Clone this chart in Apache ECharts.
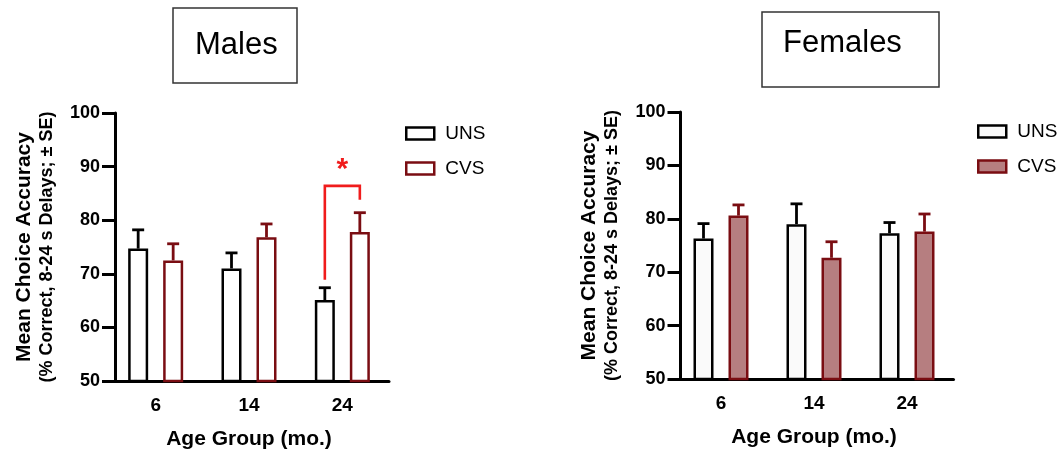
<!DOCTYPE html>
<html>
<head>
<meta charset="utf-8">
<script src="https://cdn.jsdelivr.net/npm/echarts@6/dist/echarts.min.js"></script>
<style>
html,body{margin:0;padding:0;background:#fff;}
#chart{width:1063px;height:455px;}
</style>
</head>
<body>
<div id="chart"></div>
<script>
const categories = ['6', '14', '24'];
const yTicks = [50, 60, 70, 80, 90, 100];
const malesUNS = [74.7, 71.0, 65.1];
const malesUNSse = [3.5, 2.9, 2.3];
const malesCVS = [72.5, 76.8, 77.8];
const malesCVSse = [3.1, 2.5, 3.6];
const femalesUNS = [76.3, 79.0, 77.3];
const femalesUNSse = [2.8, 3.8, 2.0];
const femalesCVS = [80.6, 72.7, 77.6];
const femalesCVSse = [2.0, 3.0, 3.3];
// significance bracket (males, 24 mo.): left foot, top, right foot, asterisk height
const sigCategory = 2;
const sigBracket = [68.9, 86.4, 83.8];
const sigStarY = 89.4;
const sigLabel = '*';

const FONT = 'Liberation Sans, Arial, sans-serif';
const DARKRED = '#7a0d12';
const PINK = '#b67e80';
const BAR_W = 20;
const BAR_GAP = 0.75;
const OFF = (BAR_W + BAR_W * BAR_GAP) / 2;

const chart = echarts.init(document.getElementById('chart'), null, {renderer: 'canvas'});

function xAxisCfg(gi) {
  return {
    type: 'category', gridIndex: gi, data: categories,
    axisLine: {lineStyle: {color: '#000', width: 3}},
    axisTick: {alignWithLabel: true, length: 11, lineStyle: {color: '#000', width: 3}},
    axisLabel: {color: '#000', fontFamily: FONT, fontWeight: 'bold', fontSize: 19, margin: 15},
    name: 'Age Group (mo.)', nameLocation: 'middle', nameGap: 48,
    nameTextStyle: {color: '#000', fontFamily: FONT, fontWeight: 'bold', fontSize: 21}
  };
}
function yAxisCfg(gi) {
  return {
    type: 'value', gridIndex: gi, min: yTicks[0], max: yTicks[yTicks.length - 1], interval: 10,
    offset: -6,
    splitLine: {show: false},
    axisLine: {show: true, lineStyle: {color: '#000', width: 3}},
    axisTick: {show: true, length: 13, lineStyle: {color: '#000', width: 3}},
    axisLabel: {color: '#000', fontFamily: FONT, fontWeight: 'bold', fontSize: 18, margin: 15},
    name: '{a|Mean Choice Accuracy}\n{b|(% Correct, 8-24 s Delays; ± SE)}',
    nameLocation: 'middle', nameRotate: 90, nameGap: 57,
    nameTextStyle: {
      color: '#000', fontFamily: FONT, fontWeight: 'bold',
      rich: {
        a: {fontFamily: FONT, fontWeight: 'bold', fontSize: 21, lineHeight: 24, color: '#000'},
        b: {fontFamily: FONT, fontWeight: 'bold', fontSize: 18, lineHeight: 22, color: '#000'}
      }
    }
  };
}
function barSeries(name, gi, data, fill, border) {
  return {
    name: name, type: 'bar', xAxisIndex: gi, yAxisIndex: gi, data: data,
    barWidth: BAR_W, barGap: (BAR_GAP * 100) + '%',
    itemStyle: {color: fill, borderColor: border, borderWidth: 2.5},
    z: 2, silent: true
  };
}
function errSeries(gi, means, ses, dir, color) {
  return {
    type: 'custom', xAxisIndex: gi, yAxisIndex: gi, z: 3, silent: true,
    data: means.map((m, i) => [i, m, ses[i]]),
    encode: {x: 0, y: 1},
    renderItem: function (params, api) {
      const base = api.coord([api.value(0), api.value(1)]);
      const top = api.coord([api.value(0), api.value(1) + api.value(2)]);
      const x = base[0] + dir * OFF;
      const st = {stroke: color, lineWidth: 2.8, fill: null};
      return {
        type: 'group', children: [
          {type: 'line', shape: {x1: x, y1: base[1], x2: x, y2: top[1]}, style: st},
          {type: 'line', shape: {x1: x - 6, y1: top[1], x2: x + 6, y2: top[1]}, style: st}
        ]
      };
    }
  };
}
const sigSeries = {
  type: 'custom', xAxisIndex: 0, yAxisIndex: 0, z: 4, silent: true,
  data: [[sigCategory, sigBracket[0], sigBracket[1], sigBracket[2], sigStarY]],
  encode: {x: 0, y: 2},
  renderItem: function (params, api) {
    const c = api.value(0);
    const pl = api.coord([c, api.value(1)]);
    const pt = api.coord([c, api.value(2)]);
    const pr = api.coord([c, api.value(3)]);
    const ps = api.coord([c, api.value(4)]);
    const xl = pl[0] - OFF, xr = pl[0] + OFF;
    return {
      type: 'group', children: [
        {type: 'polyline', shape: {points: [[xl, pl[1]], [xl, pt[1]], [xr, pt[1]], [xr, pr[1]]]},
          style: {stroke: '#f01c1c', lineWidth: 2.6, fill: null}},
        {type: 'text', x: pl[0], y: ps[1],
          style: {text: sigLabel, fill: '#f01c1c', font: 'bold 30px ' + FONT, align: 'center', verticalAlign: 'middle'}}
      ]
    };
  }
};

function legendCfg(left, top, cvsFill) {
  return {
    orient: 'vertical', left: left, top: top,
    itemWidth: 28, itemHeight: 12, itemGap: 14,
    textStyle: {color: '#000', fontFamily: FONT, fontSize: 19, lineHeight: 21, padding: [0, 0, 0, 6]},
    selectedMode: false,
    data: [
      {name: 'UNS', icon: 'rect', itemStyle: {color: cvsFill === PINK ? '#fafafa' : '#fff', borderColor: '#000', borderWidth: 2.5}},
      {name: 'CVS', icon: 'rect', itemStyle: {color: cvsFill, borderColor: DARKRED, borderWidth: 2.5}}
    ]
  };
}

const titleStyle = {color: '#000', fontFamily: FONT, fontWeight: 'normal', fontSize: 31, lineHeight: 31};

const option = {
  backgroundColor: '#fff',
  animation: false,
  title: [
    {text: 'Males', left: 173, top: 8, padding: [22, 20, 22, 22], borderColor: '#333', borderWidth: 1.5, textStyle: titleStyle},
    {text: 'Females', left: 762, top: 12, padding: [16, 37, 28, 21], borderColor: '#333', borderWidth: 1.5, textStyle: titleStyle}
  ],
  legend: [legendCfg(400, 118, '#fff'), legendCfg(972, 116, PINK)],
  grid: [
    {left: 109, top: 113, width: 280, height: 268},
    {left: 674.5, top: 112, width: 279, height: 267}
  ],
  xAxis: [xAxisCfg(0), xAxisCfg(1)],
  yAxis: [yAxisCfg(0), yAxisCfg(1)],
  series: [
    barSeries('UNS', 0, malesUNS, '#fff', '#000'),
    barSeries('CVS', 0, malesCVS, '#fff', DARKRED),
    barSeries('UNS', 1, femalesUNS, '#fafafa', '#000'),
    barSeries('CVS', 1, femalesCVS, PINK, DARKRED),
    errSeries(0, malesUNS, malesUNSse, -1, '#000'),
    errSeries(0, malesCVS, malesCVSse, 1, DARKRED),
    errSeries(1, femalesUNS, femalesUNSse, -1, '#000'),
    errSeries(1, femalesCVS, femalesCVSse, 1, DARKRED),
    sigSeries
  ]
};
chart.setOption(option);
</script>
</body>
</html>
